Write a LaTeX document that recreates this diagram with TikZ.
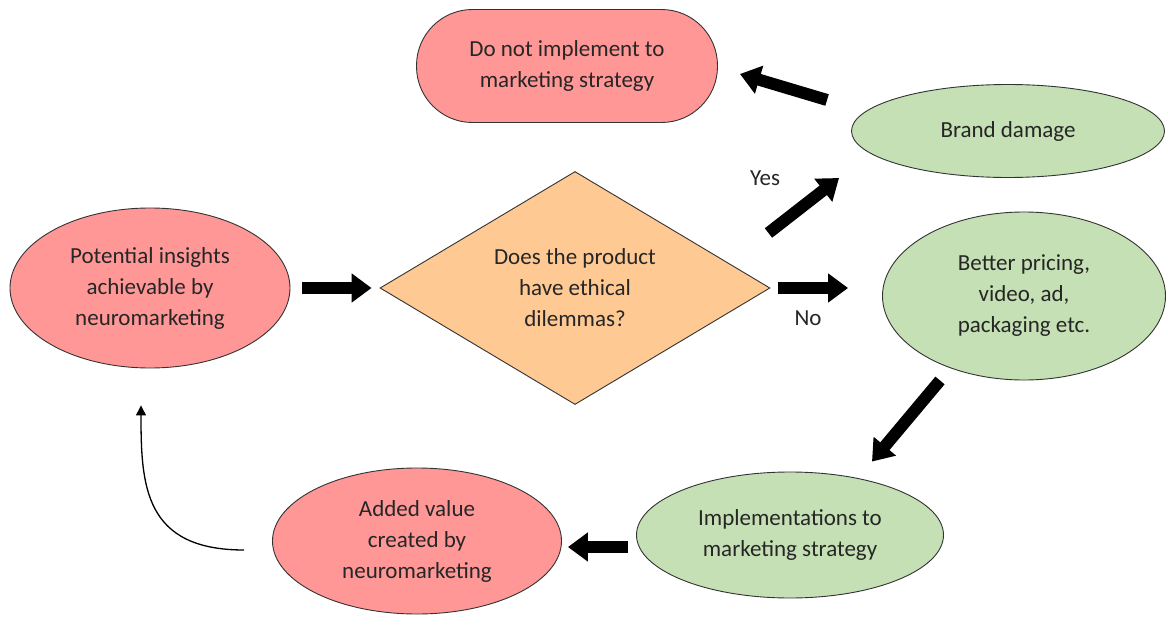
\documentclass[tikz,border=0pt]{standalone}
\usepackage{fontspec}
\setmainfont{Carlito}
\usetikzlibrary{arrows.meta, shapes.geometric}

\definecolor{rosy}{HTML}{FF9797}
\definecolor{leaf}{HTML}{C5E0B4}
\definecolor{peach}{HTML}{FFC993}

\begin{document}
\begin{tikzpicture}[
        x=1pt, y=-1pt,
        font=\fontsize{23}{31}\selectfont,
        every node/.style={align=center, text=black!85},
        blob/.style={ellipse, draw=black!80, line width=0.9pt, inner sep=0pt},
        bad/.style={blob, fill=rosy},
        good/.style={blob, fill=leaf},
        blk/.style={line width=12pt, -{Triangle[length=20pt, width=28pt]}},
        thin/.style={line width=1.3pt, -{Triangle[length=10pt, width=10pt]}}
        ]
        \useasboundingbox (0,0) rectangle (1168,626);
        % outcome nodes
        \node[draw=black!80, line width=0.9pt, fill=rosy, rounded corners=56pt,
            minimum width=301pt, minimum height=113pt] (stop) at (567,66)
            {Do not implement to\\marketing strategy};
        \node[good, minimum width=313pt, minimum height=93pt] (damage) at (1008,131) {Brand damage};
        % decision
        \node[diamond, draw=black!80, line width=0.9pt, fill=peach, inner sep=0pt,
            shape aspect=1.67, minimum width=390pt, minimum height=233pt] (ethic) at (575,288)
            {Does the product\\have ethical\\dilemmas?};
        \node[bad, minimum width=280pt, minimum height=160pt] (insight) at (150,288)
            {Potential insights\\achievable by\\neuromarketing};
        \node[good, minimum width=283pt, minimum height=168pt] (pricing) at (1024,296)
            {Better pricing,\\video, ad,\\packaging etc.};
        % lower row
        \node[good, minimum width=307pt, minimum height=126pt] (implement) at (790,535)
            {Implementations to\\marketing strategy};
        \node[bad, minimum width=289pt, minimum height=146pt] (value) at (417,541)
            {Added value\\created by\\neuromarketing};
        % block arrows
        \draw[blk, shorten <=12pt, shorten >=8pt] (insight.east) -- (ethic.west);
        \draw[blk, shorten <=8pt, shorten >=34pt] (ethic.east) -- (ethic.east -| pricing.west);
        \draw[blk] ([xshift=-2pt, yshift=55pt]ethic.east) -- ([xshift=-12pt, yshift=-47pt]damage.west);
        \draw[blk] ([xshift=-24pt, yshift=31pt]damage.west) -- ([xshift=22pt, yshift=-8pt]stop.east);
        \draw[blk] ([xshift=-84pt]pricing.south) -- ([xshift=82pt, yshift=10pt]implement.north);
        \draw[blk] ([xshift=-8pt, yshift=-12pt]implement.west) -- ([xshift=6pt, yshift=-6pt]value.east);
        \draw[thin] ([xshift=-28pt, yshift=-9pt]value.west) .. controls +(-100,0) and +(0,80) ..
            ([xshift=-9pt, yshift=-37pt]insight.south);
        % branch labels
        \node (yes) at (765,178) {Yes};
        \node (no) at (808,318) {No};
\end{tikzpicture}
\end{document}
